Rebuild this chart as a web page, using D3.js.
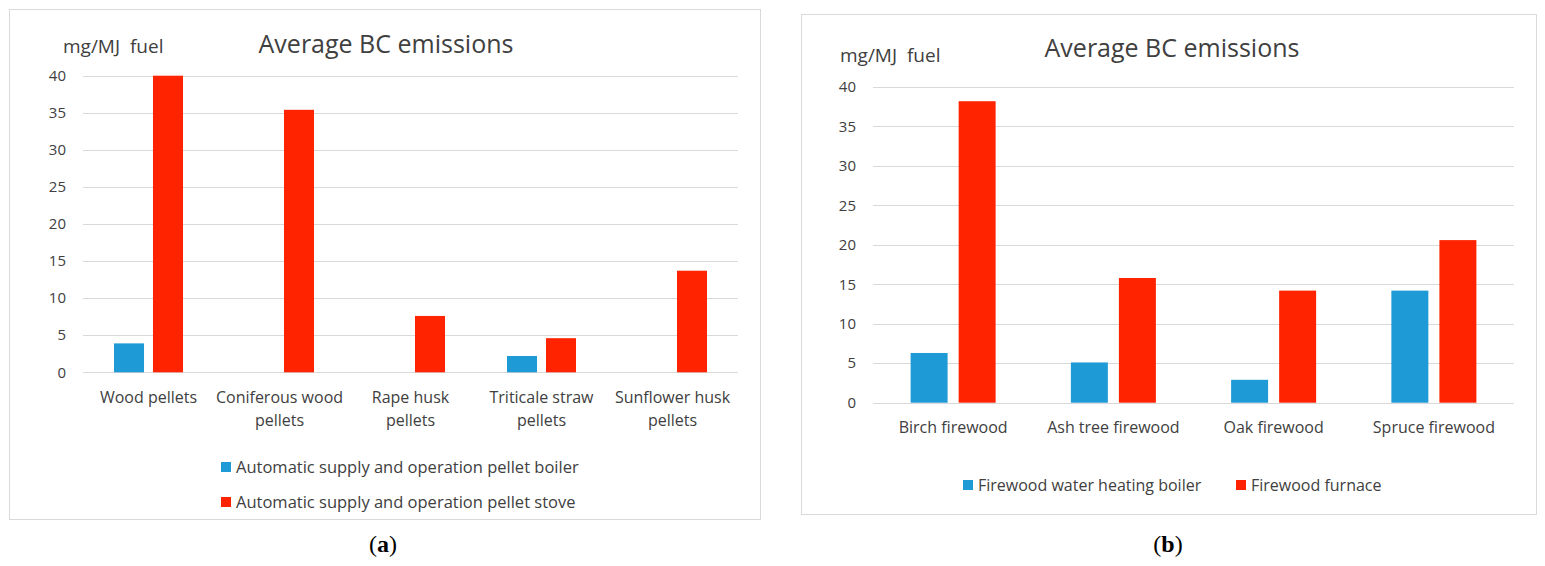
<!DOCTYPE html>
<meta charset="utf-8">
<style>

body {
  margin: 0;
  background: #fff;
}

text {
  font-family: "Open Sans", "Noto Sans", sans-serif;
  fill: #404040;
}

.grid line {
  stroke: #d9d9d9;
  stroke-width: 1;
}

.frame {
  fill: none;
  stroke: #d9d9d9;
}

.caption {
  font-family: "Liberation Serif", "DejaVu Serif", serif;
  font-size: 24px;
  fill: #000;
}

</style>
<body>
<script src="https://cdnjs.cloudflare.com/ajax/libs/d3/7.8.5/d3.min.js"></script>
<script>

// chart (a) - pellets
var pelletCats = ["Wood pellets", "Coniferous wood\npellets", "Rape husk\npellets", "Triticale straw\npellets", "Sunflower husk\npellets"],
	pelletSeries = ["Automatic supply and operation pellet boiler", "Automatic supply and operation pellet stove"],
	pelletBoiler = [3.9, null, null, 2.2, null],
	pelletStove = [40, 35.4, 7.6, 4.6, 13.7];

// chart (b) - firewood
var woodCats = ["Birch firewood", "Ash tree firewood", "Oak firewood", "Spruce firewood"],
	woodSeries = ["Firewood water heating boiler", "Firewood furnace"],
	woodBoiler = [6.3, 5.1, 2.9, 14.2],
	woodFurnace = [38.2, 15.8, 14.2, 20.6];

var yTicks = [0, 5, 10, 15, 20, 25, 30, 35, 40],
	colors = ["#1e9ad6", "#ff2300"];

var svg = d3.select("body").append("svg")
	.attr("width", 1545)
	.attr("height", 566);

function drawChart(o) {
	var g = svg.append("g");

	g.append("rect")
		.attr("class", "frame")
		.attr("x", o.frame[0] + 0.5)
		.attr("y", o.frame[1] + 0.5)
		.attr("width", o.frame[2] - o.frame[0])
		.attr("height", o.frame[3] - o.frame[1]);

	var y = d3.scaleLinear().domain([0, 40]).range([o.y0, o.y40]);
	var x0 = d3.scaleBand().domain(o.cats).range(o.xRange);

	// gridlines
	g.append("g").attr("class", "grid")
		.selectAll("line")
		.data(yTicks)
		.enter().append("line")
		.attr("x1", o.xRange[0])
		.attr("x2", o.xRange[1])
		.attr("y1", function(d) { return Math.round(y(d)) + 0.5; })
		.attr("y2", function(d) { return Math.round(y(d)) + 0.5; });

	// y tick labels
	g.selectAll(".ytick")
		.data(yTicks)
		.enter().append("text")
		.attr("class", "ytick")
		.attr("x", o.xRange[0] - 17)
		.attr("y", function(d) { return y(d); })
		.attr("dy", ".35em")
		.attr("text-anchor", "end")
		.style("font-size", "15px")
		.text(function(d) { return d; });

	// bars
	var values = [o.boiler, o.stove];
	o.cats.forEach(function(c, i) {
		var cx = x0(c) + x0.bandwidth() / 2;
		var x1 = d3.scaleBand().domain([0, 1])
			.range([cx - o.half, cx + o.half])
			.paddingInner(o.pad);
		g.selectAll(null)
			.data([0, 1].filter(function(s) { return values[s][i] != null; }))
			.enter().append("rect")
			.attr("x", function(s) { return x1(s); })
			.attr("width", x1.bandwidth())
			.attr("y", function(s) { return y(values[s][i]); })
			.attr("height", function(s) { return y(0) - y(values[s][i]); })
			.attr("fill", function(s) { return colors[s]; });
	});

	// category labels
	var lab = g.selectAll(".xlab")
		.data(o.cats)
		.enter().append("text")
		.attr("class", "xlab")
		.attr("text-anchor", "middle")
		.style("font-size", "16px");
	lab.selectAll("tspan")
		.data(function(d) { return d.split("\n").map(function(t) { return [d, t]; }); })
		.enter().append("tspan")
		.attr("x", function(d) { return x0(d[0]) + x0.bandwidth() / 2; })
		.attr("y", function(d, j) { return o.labY + j * 23; })
		.text(function(d) { return d[1]; });

	g.append("text")
		.attr("x", o.titleX)
		.attr("y", o.titleY)
		.attr("text-anchor", "middle")
		.style("font-size", "25px")
		.text("Average BC emissions");

	g.append("text")
		.attr("x", o.unitX)
		.attr("y", o.unitY)
		.style("font-size", "19px")
		.style("white-space", "pre")
		.text("mg/MJ  fuel");

	// legend
	var leg = g.selectAll(".leg")
		.data(o.series)
		.enter().append("g")
		.attr("class", "leg")
		.attr("transform", function(d, i) { return "translate(" + o.legX[i] + "," + o.legY[i] + ")"; });
	leg.append("rect")
		.attr("x", 0).attr("y", -5)
		.attr("width", 10).attr("height", 10)
		.attr("fill", function(d, i) { return colors[i]; });
	leg.append("text")
		.attr("x", 15)
		.attr("dy", ".35em")
		.style("font-size", o.legSize)
		.text(function(d) { return d; });

	var cap = svg.append("text")
		.attr("class", "caption")
		.attr("x", o.capX)
		.attr("y", 552)
		.attr("text-anchor", "middle");
	cap.append("tspan").text("(");
	cap.append("tspan").style("font-weight", "bold").text(o.cap);
	cap.append("tspan").text(")");
}

drawChart({
	frame: [9, 9, 760, 519],
	cats: pelletCats, series: pelletSeries,
	boiler: pelletBoiler, stove: pelletStove,
	xRange: [83, 738], y0: 372.3, y40: 75.7,
	half: 34.5, pad: 0.23, labY: 403,
	titleX: 386, titleY: 53, unitX: 63, unitY: 53,
	legX: [221, 221], legY: [467, 502], legSize: "16.5px",
	capX: 383, cap: "a"
});

drawChart({
	frame: [801, 14, 1536, 514],
	cats: woodCats, series: woodSeries,
	boiler: woodBoiler, stove: woodFurnace,
	xRange: [873, 1514], y0: 402.7, y40: 87,
	half: 42.5, pad: 0.23, labY: 433,
	titleX: 1172, titleY: 57, unitX: 840, unitY: 62,
	legX: [963, 1236], legY: [485, 485], legSize: "16px",
	capX: 1168, cap: "b"
});

</script>
</body>
</html>
